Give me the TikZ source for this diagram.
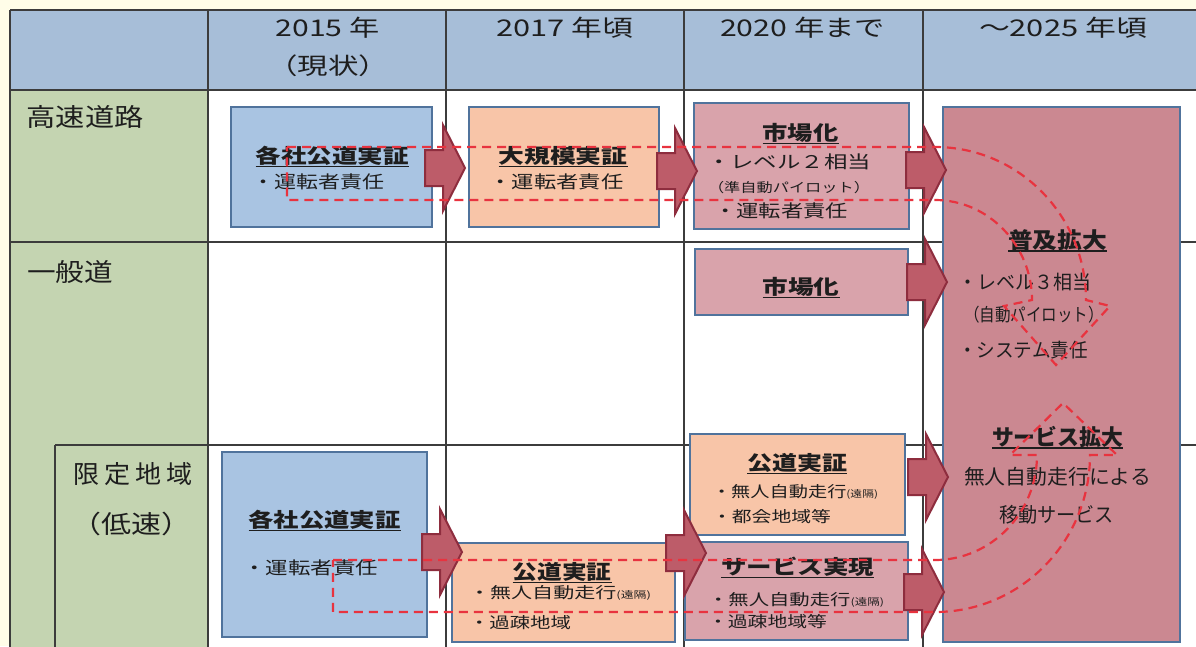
\documentclass[tikz,border=0pt]{standalone}
\usepackage{fontspec}
\usepackage{graphicx}
\setmainfont{Noto Sans CJK JP}
\usetikzlibrary{calc}
\definecolor{bgY}{HTML}{FFFDE8}
\definecolor{hdr}{HTML}{A7BED8}
\definecolor{grn}{HTML}{C4D4B1}
\definecolor{gridc}{HTML}{3C3C3C}
\definecolor{bxB}{HTML}{A9C4E2}
\definecolor{bxO}{HTML}{F8C5A8}
\definecolor{bxP}{HTML}{D9A3AB}
\definecolor{bxBig}{HTML}{CB8891}
\definecolor{bxE}{HTML}{50739C}
\definecolor{arF}{HTML}{BD5C69}
\definecolor{arE}{HTML}{8E2D3E}
\definecolor{dshc}{HTML}{E8333F}
\definecolor{txtc}{HTML}{1E1E1E}
\newcommand\W[2]{\resizebox{#1pt}{\height}{#2}}
\newcommand\myul[1]{\setbox0=\hbox{#1}\rlap{\copy0}\raisebox{-3.8pt}{\rule{\wd0}{1.5pt}}}
\newcommand\sm[1]{{\fontsize{9.5}{9.5}\selectfont #1}}
\begin{document}
\begin{tikzpicture}[x=1pt,y=-1pt,
  gridln/.style={draw=gridc, line width=1.3pt},
  mybox/.style={draw=bxE, line width=1.5pt, inner sep=0pt, outer sep=0pt},
  mytx/.style={inner sep=0pt, anchor=base, text=txtc},
  myhd/.style={mytx, font=\fontsize{23}{23}\selectfont},
  myrl/.style={mytx, font=\fontsize{25}{25}\selectfont},
  mytt/.style={mytx, font=\fontsize{20}{20}\selectfont\bfseries},
  myttb/.style={mytx, font=\fontsize{22}{22}\selectfont\bfseries},
  mybd/.style={mytx, font=\fontsize{17.5}{17.5}\selectfont},
  mybs/.style={mytx, font=\fontsize{15.5}{15.5}\selectfont},
  mybg/.style={mytx, font=\fontsize{19.5}{19.5}\selectfont},
  mydsh/.style={draw=dshc, line width=2.2pt, dash pattern=on 9pt off 6pt},
  barrow/.pic={\filldraw[fill=arF, draw=arE, line width=2pt, line join=miter]
     (0,-18) -- (18,-18) -- (18,-43) -- (40,0) -- (18,43) -- (18,18) -- (0,18) -- cycle;}
]
\useasboundingbox (0,0) rectangle (1196,646);
\clip (0,0) rectangle (1196,646);
\fill[bgY] (0,0) rectangle (1196,646);
% table fills
\fill[hdr] (10,10) rectangle (1210,90);
\fill[white] (208,90) rectangle (1210,660);
\fill[grn] (10,90) rectangle (208,660);
% grid
\draw[gridln] (10,10) -- (1210,10);
\draw[gridln] (10,90) -- (1210,90);
\draw[gridln] (10,242) -- (1210,242);
\draw[gridln] (55,445) -- (1210,445);
\draw[gridln] (10,10) -- (10,660);
\draw[gridln] (208,10) -- (208,660);
\draw[gridln] (446,10) -- (446,660);
\draw[gridln] (684,10) -- (684,660);
\draw[gridln] (923,10) -- (923,660);
\draw[gridln] (55,445) -- (55,660);
% header texts
\node[myhd] (h1) at (327.5,36.5) {\W{104}{2015 年}};
\node[myhd] (h1b) at (328,74.5) {\W{122}{（現状）}};
\node[myhd] (h2) at (564.5,36.5) {\W{137}{2017 年頃}};
\node[myhd] (h3) at (802.5,36.5) {\W{165}{2020 年まで}};
\node[myhd] (h4) at (1063,36.5) {\W{168}{～2025 年頃}};
% row labels
\node[myrl] (r1) at (85,126.5) {\W{117}{高速道路}};
\node[myrl] (r2) at (70,281.5) {\W{86}{一般道}};
\node[myrl] (r3) at (133,483.5) {\W{120}{限\hspace{5pt}定\hspace{5pt}地\hspace{5pt}域}};
\node[myrl] (r3b) at (131,533.5) {\W{120}{（低速）}};
% boxes
\node[mybox, fill=bxB, minimum width=201pt, minimum height=120pt] (b1) at (331.5,167) {};
\node[mybox, fill=bxO, minimum width=190pt, minimum height=120pt] (b2) at (564,167) {};
\node[mybox, fill=bxP, minimum width=215pt, minimum height=126pt] (b3) at (801.5,166) {};
\node[mybox, fill=bxBig, minimum width=237pt, minimum height=535pt] (big) at (1061.5,374.5) {};
\node[mybox, fill=bxP, minimum width=213pt, minimum height=66pt] (b4) at (801.5,282) {};
\node[mybox, fill=bxB, minimum width=205pt, minimum height=185pt] (b5) at (324.5,544.5) {};
\node[mybox, fill=bxO, minimum width=223pt, minimum height=99pt] (b6) at (563.5,592.5) {};
\node[mybox, fill=bxO, minimum width=215pt, minimum height=101pt] (b7) at (797.5,484.5) {};
\node[mybox, fill=bxP, minimum width=223pt, minimum height=98pt] (b8) at (796.5,591) {};
% box texts
\node[mytt] (t1) at (332,163.5) {\W{153}{\myul{各社公道実証}}};
\node[mybd] (t1a) at (318,188.5) {\W{132}{・運転者責任}};
\node[mytt] (t2) at (563,163.5) {\W{129}{\myul{大規模実証}}};
\node[mybd] (t2a) at (556.5,188.5) {\W{134}{・運転者責任}};
\node[mytt] (t3) at (800.5,140.5) {\W{76}{\myul{市場化}}};
\node[mybd] (t3a) at (789,168.5) {\W{164}{・レベル２相当}};
\node[mytx, font=\fontsize{13}{13}\selectfont] (t3b) at (789,192) {\W{162}{（準自動パイロット）}};
\node[mybd] (t3c) at (781,217.5) {\W{134}{・運転者責任}};
\node[mytt] (t4) at (801,294.5) {\W{77}{\myul{市場化}}};
\node[mytt] (t5) at (324.5,527.5) {\W{152}{\myul{各社公道実証}}};
\node[mybd] (t5a) at (310.5,574.5) {\W{135}{・運転者責任}};
\node[mytt] (t6) at (562,579.5) {\W{99}{\myul{公道実証}}};
\node[mybs] (t6a) at (560,598.8) {\W{182}{・無人自動走行\sm{(遠隔)}}};
\node[mybs] (t6b) at (520,628.8) {\W{102}{・過疎地域}};
\node[mytt] (t7) at (797,470.5) {\W{100}{\myul{公道実証}}};
\node[mybs] (t7a) at (795,497.8) {\W{166}{・無人自動走行\sm{(遠隔)}}};
\node[mybs] (t7b) at (771.5,522.8) {\W{119}{・都会地域等}};
\node[mytt] (t8) at (797.5,574.5) {\W{153}{\myul{サービス実現}}};
\node[mybs] (t8a) at (796,605.8) {\W{176}{・無人自動走行\sm{(遠隔)}}};
\node[mybs] (t8b) at (767.5,627.8) {\W{119}{・過疎地域等}};
\node[myttb] (g1) at (1057.5,248) {\W{99}{\myul{普及拡大}}};
\node[mybg] (g1a) at (1024.5,289) {\W{133}{・レベル３相当}};
\node[mytx, font=\fontsize{18}{18}\selectfont] (g1b) at (1034,321.5) {\W{140}{（自動パイロット）}};
\node[mybg] (g1c) at (1023,357) {\W{130}{・システム責任}};
\node[myttb] (g2) at (1057.5,445) {\W{131}{\myul{サービス拡大}}};
\node[mytx, font=\fontsize{20.5}{20.5}\selectfont] (g2a) at (1057.5,484) {\W{187}{無人自動走行による}};
\node[mytx, font=\fontsize{20.5}{20.5}\selectfont] (g2b) at (1056.5,522) {\W{115}{移動サービス}};
% block arrows
\pic at ($(b1.east)+(-7,1)$) {barrow};
\pic at ($(b2.east)+(-2,4)$) {barrow};
\pic at ($(b3.east)+(-3,4)$) {barrow};
\pic at ($(b4.east)+(-1,0)$) {barrow};
\pic at ($(b5.east)+(-5,7.5)$) {barrow};
\pic at ($(b8.west)+(-19,-38)$) {barrow};
\pic at ($(b7.east)+(3,-7.5)$) {barrow};
\pic at ($(b8.east)+(-4,1)$) {barrow};
% dashed curved arrows
\draw[mydsh] (287,147) -- (935,147) .. controls (1019,147) and (1086,216) .. (1086,300)
  -- (1110,306) -- (1056,365) -- (1004,306) -- (1032,300)
  .. controls (1032,246) and (989,200) .. (935,200) -- (287,200) -- cycle;
\draw[mydsh] (333,560) -- (935,560) .. controls (991,560) and (1037,513) .. (1037,455)
  -- (1010,455) -- (1063,403) -- (1117,455) -- (1090,455)
  .. controls (1090,541) and (1021,612) .. (935,612) -- (333,612) -- cycle;
\end{tikzpicture}
\end{document}
